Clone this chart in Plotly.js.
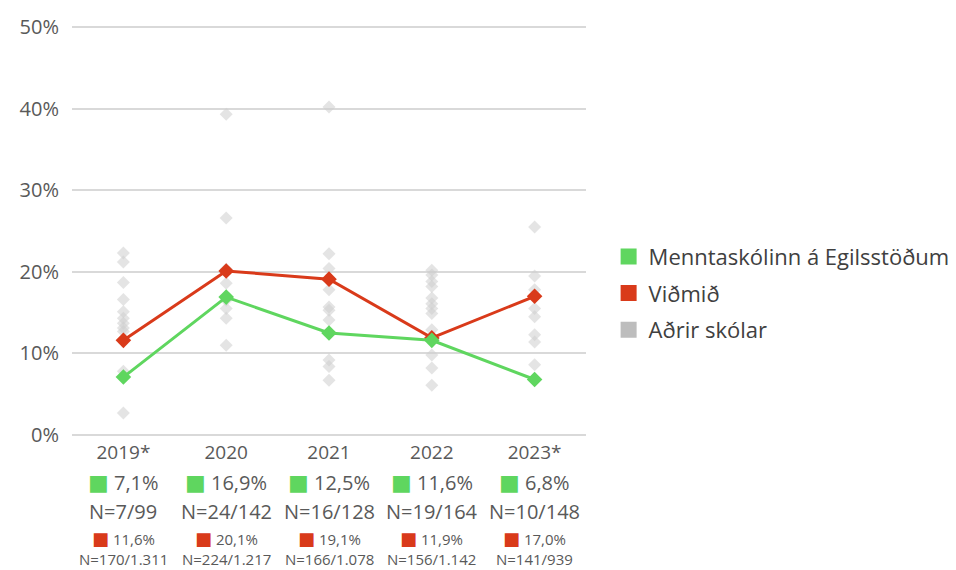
<!DOCTYPE html>
<html>
<head>
<meta charset="utf-8">
<script src="https://cdn.plot.ly/plotly-3.0.1.min.js"></script>
<style>html,body{margin:0;padding:0;background:#fff;}#chart{width:956px;height:570px;}</style>
</head>
<body>
<div id="chart"></div>
<script>
const years = ['2019*', '2020', '2021', '2022', '2023*'];
const schoolName = 'Menntaskólinn á Egilsstöðum';
const benchName = 'Viðmið';
const othersName = 'Aðrir skólar';
const schoolVals = [7.1, 16.9, 12.5, 11.6, 6.8];
const benchVals = [11.6, 20.1, 19.1, 11.9, 17.0];
const schoolPctLabels = ['7,1%', '16,9%', '12,5%', '11,6%', '6,8%'];
const schoolNLabels = ['N=7/99', 'N=24/142', 'N=16/128', 'N=19/164', 'N=10/148'];
const benchPctLabels = ['11,6%', '20,1%', '19,1%', '11,9%', '17,0%'];
const benchNLabels = ['N=170/1.311', 'N=224/1.217', 'N=166/1.078', 'N=156/1.142', 'N=141/939'];
const others2019 = [22.3, 21.2, 18.7, 16.6, 15.1, 14.3, 13.7, 13.1, 12.7, 7.8, 2.7];
const others2020 = [39.3, 26.6, 20.3, 18.6, 16.5, 15.5, 14.3, 11.0];
const others2021 = [40.2, 22.2, 20.4, 17.8, 15.7, 15.3, 14.1, 9.2, 8.4, 6.7];
const others2022 = [20.2, 19.6, 18.8, 18.2, 16.8, 16.1, 15.5, 14.9, 12.9, 9.8, 8.2, 6.1];
const others2023 = [25.5, 19.5, 17.8, 15.5, 14.5, 12.3, 11.4, 8.6];

const GREEN = '#5fd65f';
const RED = '#d93a1a';
const GRAY = '#bdbdbd';
const TEXT = '#595959';
const FONT = '"Open Sans", sans-serif';

const othersAll = [others2019, others2020, others2021, others2022, others2023];
const ox = [], oy = [];
othersAll.forEach((arr, i) => arr.forEach(v => { ox.push(years[i]); oy.push(v); }));

const traces = [
  {x: ox, y: oy, type: 'scatter', mode: 'markers', showlegend: false, hoverinfo: 'skip',
   marker: {symbol: 'diamond', size: 10, color: 'rgba(205,205,205,0.55)'}},
  {x: years, y: benchVals, type: 'scatter', mode: 'lines+markers', showlegend: false,
   line: {color: RED, width: 3}, marker: {symbol: 'diamond', size: 12, color: RED}},
  {x: years, y: schoolVals, type: 'scatter', mode: 'lines+markers', showlegend: false,
   line: {color: GREEN, width: 3}, marker: {symbol: 'diamond', size: 12, color: GREEN}},
  {x: [null], y: [null], type: 'scatter', mode: 'markers', name: schoolName, legendgroup: 'a',
   marker: {symbol: 'square', size: 16, color: GREEN}},
  {x: [null], y: [null], type: 'scatter', mode: 'markers', name: benchName, legendgroup: 'b',
   marker: {symbol: 'square', size: 16, color: RED}},
  {x: [null], y: [null], type: 'scatter', mode: 'markers', name: othersName, legendgroup: 'c',
   marker: {symbol: 'square', size: 16, color: GRAY}}
];

function sq(color, size) {
  return '<span style="color:' + color + ';font-family:\'DejaVu Sans\';font-size:' + size + 'px">■</span>';
}

const annotations = [];
years.forEach((yr, i) => {
  annotations.push({x: i, xref: 'x', y: 0, yref: 'paper', yanchor: 'middle', yshift: -47,
    showarrow: false, font: {family: FONT, size: 20, color: TEXT},
    text: sq(GREEN, 22) + ' ' + schoolPctLabels[i]});
  annotations.push({x: i, xref: 'x', y: 0, yref: 'paper', yanchor: 'middle', yshift: -76,
    showarrow: false, font: {family: FONT, size: 20, color: TEXT}, text: schoolNLabels[i]});
  annotations.push({x: i, xref: 'x', y: 0, yref: 'paper', yanchor: 'middle', yshift: -103,
    showarrow: false, font: {family: FONT, size: 15, color: TEXT},
    text: sq(RED, 18) + ' ' + benchPctLabels[i]});
  annotations.push({x: i, xref: 'x', y: 0, yref: 'paper', yanchor: 'middle', yshift: -124,
    showarrow: false, font: {family: FONT, size: 15, color: TEXT}, text: benchNLabels[i]});
});

const layout = {
  width: 956, height: 570,
  margin: {l: 72, r: 370, t: 25, b: 135, autoexpand: false},
  paper_bgcolor: '#fff', plot_bgcolor: '#fff',
  font: {family: FONT, color: TEXT},
  xaxis: {type: 'category', range: [-0.5, 4.5], showgrid: false, zeroline: false, showline: false,
    ticks: '', tickfont: {size: 19, color: TEXT}, ticklabelstandoff: 4, fixedrange: true},
  yaxis: {range: [0, 50.25], tickmode: 'linear', tick0: 0, dtick: 10, ticksuffix: '%', showgrid: true,
    gridcolor: '#d9d9d9', gridwidth: 2,
    zeroline: true, zerolinecolor: '#d9d9d9', zerolinewidth: 2, showline: false, ticks: '',
    tickfont: {size: 20, color: TEXT}, ticklabelstandoff: 12, fixedrange: true},
  legend: {x: 1.044, xanchor: 'left', y: 0.346, yanchor: 'middle', font: {size: 22, color: '#404040', family: FONT},
    traceorder: 'grouped', tracegroupgap: 5, itemsizing: 'trace', bgcolor: 'rgba(0,0,0,0)'},
  annotations: annotations,
  showlegend: true
};

Plotly.newPlot('chart', traces, layout, {displayModeBar: false, staticPlot: true});
</script>
</body>
</html>
